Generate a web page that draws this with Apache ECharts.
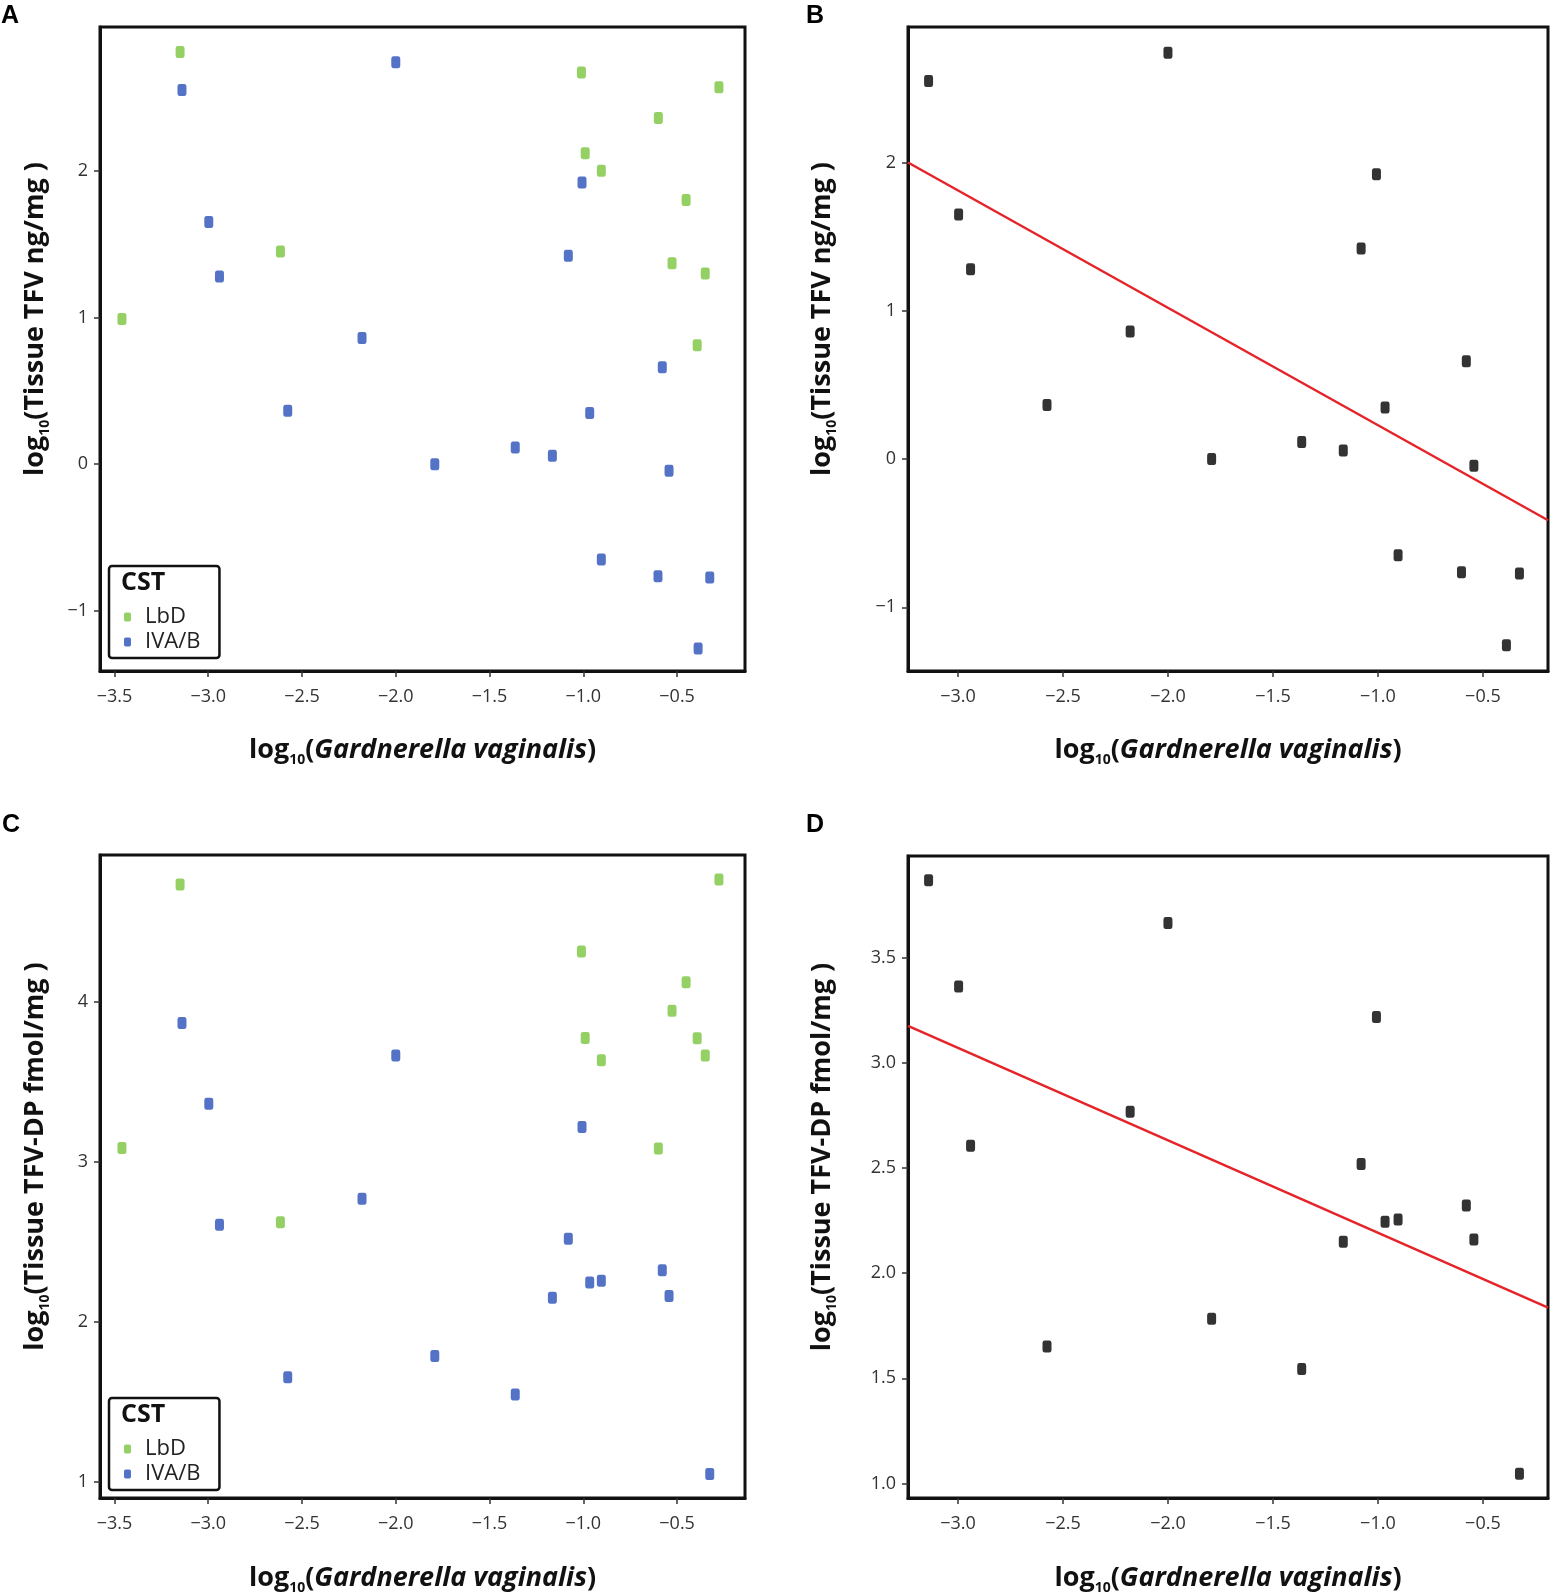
<!DOCTYPE html>
<html>
<head>
<meta charset="utf-8">
<title>Gardnerella vaginalis vs tissue TFV</title>
<script src="https://cdn.jsdelivr.net/npm/echarts@6.0.0/dist/echarts.min.js"></script>
<style>
  html, body { margin: 0; padding: 0; background: #fff; }
  #main { width: 1557px; height: 1596px; }
</style>
</head>
<body>
<div id="main"></div>
<script>
// log10(G. vaginalis) and log10(tissue TFV) per sample
var gvBlue  = [-3.14, -2.00, -1.007, -2.997, -2.94, -1.08, -2.18, -0.579, -2.576, -1.792, -1.363, -1.165, -0.966, -0.543, -0.904, -0.602, -0.326, -0.388];
var tfvBlue = [2.55, 2.74, 1.92, 1.65, 1.28, 1.42, 0.86, 0.66, 0.364, 0.0, 0.114, 0.057, 0.348, -0.045, -0.65, -0.764, -0.773, -1.257];
var gvGreen  = [-3.15, -1.01, -0.277, -0.60, -0.99, -0.904, -0.452, -2.615, -0.527, -0.35, -3.46, -0.393];
var tfvGreen = [2.81, 2.67, 2.57, 2.36, 2.12, 2.00, 1.80, 1.45, 1.37, 1.30, 0.99, 0.81];

// tissue TFV-DP (panels C and D)
var gvBlueDP   = [-3.14, -2.00, -1.007, -2.997, -2.94, -1.08, -2.18, -0.579, -2.576, -1.792, -1.363, -1.165, -0.966, -0.543, -0.904, -0.326];
var tfvdpBlue  = [3.869, 3.665, 3.218, 3.364, 2.606, 2.519, 2.768, 2.322, 1.651, 1.784, 1.544, 2.149, 2.245, 2.160, 2.255, 1.046];
var tfvdpGreen = [4.736, 4.316, 4.767, 3.083, 3.775, 3.636, 4.123, 2.622, 3.946, 3.665, 3.087, 3.773];

// fitted lines, end points at the plot edges
var fitB = [[-3.238, 2.0], [-0.19, -0.413]];
var fitD = [[-3.238, 3.176], [-0.19, 1.836]];

var xTicksAC = [-3.5, -3.0, -2.5, -2.0, -1.5, -1.0, -0.5];
var xTicksBD = [-3.0, -2.5, -2.0, -1.5, -1.0, -0.5];
var yTicksAB = [-1, 0, 1, 2];
var yTicksC  = [1, 2, 3, 4];
var yTicksD  = [1.0, 1.5, 2.0, 2.5, 3.0, 3.5];

var GREEN = '#7bc43f', BLUE = '#2950b8', RED = '#e5242a';
var FONT = 'Open Sans';

function pairs(xs, ys) {
  return xs.map(function (x, i) { return [x, ys[i]]; });
}
function fmt(d) {
  return function (v) {
    var s = Math.abs(v).toFixed(d);
    return (v < 0 ? '\u2212' : '') + s;
  };
}

var nameRich = {
  n: { fontSize: 27, fontWeight: 'bold', fontFamily: FONT, color: '#111', lineHeight: 34 },
  s: { fontSize: 14, fontWeight: 'bold', fontFamily: FONT, color: '#111', lineHeight: 34, verticalAlign: 'bottom' },
  i: { fontSize: 27, fontWeight: 'bold', fontStyle: 'italic', fontFamily: FONT, color: '#111', lineHeight: 34 }
};
var xName = '{n|log}{s|10}{n|(}{i|Gardnerella vaginalis}{n|)}';
var yNameTFV = '{n|log}{s|10}{n|(Tissue TFV ng/mg )}';
var yNameDP = '{n|log}{s|10}{n|(Tissue TFV-DP fmol/mg )}';

function xAxis(g, min, max, ticks, gap) {
  return {
    type: 'value', gridIndex: g, min: min, max: max,
    name: xName, nameLocation: 'middle', nameGap: gap,
    nameTextStyle: { rich: nameRich },
    axisLine: { show: true, onZero: false, lineStyle: { color: '#111', width: 3 } },
    axisTick: { show: true, inside: false, length: 6, customValues: ticks, lineStyle: { color: '#333', width: 1.5 } },
    axisLabel: { customValues: ticks, margin: 17, formatter: fmt(1), fontSize: 18, fontFamily: FONT, color: '#333' },
    splitLine: { show: false }
  };
}
function yAxis(g, name, min, max, ticks, d, gap, shift) {
  return {
    type: 'value', gridIndex: g, min: min, max: max,
    name: name, nameLocation: 'middle', nameGap: gap, nameRotate: 90,
    nameTextStyle: { rich: nameRich, padding: [0, 0, 0, shift] },
    axisLine: { show: true, onZero: false, lineStyle: { color: '#111', width: 3 } },
    axisTick: { show: true, inside: false, length: 6, customValues: ticks, lineStyle: { color: '#333', width: 1.5 } },
    axisLabel: { customValues: ticks, margin: 12, formatter: fmt(d), fontSize: 18, fontFamily: FONT, color: '#333' },
    splitLine: { show: false }
  };
}
function dots(name, g, data, color) {
  return {
    name: name, type: 'scatter', xAxisIndex: g, yAxisIndex: g, data: data,
    symbol: 'roundRect', symbolSize: [9, 12],
    itemStyle: { color: color }, silent: true
  };
}
function fit(g, data) {
  return {
    type: 'line', xAxisIndex: g, yAxisIndex: g, data: data, symbol: 'none',
    lineStyle: { color: RED, width: 2.5 }, silent: true, z: 1
  };
}
function legendAt(top) {
  return {
    orient: 'vertical', left: 109, top: top, data: ['LbD', 'IVA/B'],
    selectedMode: false, icon: 'roundRect', itemWidth: 7, itemHeight: 9, itemGap: 3,
    borderColor: '#111', borderWidth: 2.5, borderRadius: 3,
    padding: [40, 19, 5, 15],
    textStyle: { fontSize: 22, fontFamily: FONT, color: '#222', padding: [0, 0, 0, 9] }
  };
}
function label(text, x, y, size) {
  return {
    type: 'text', x: x, y: y, silent: true,
    style: { text: text, fontSize: size, fontWeight: 'bold', fontFamily: 'Liberation Sans', fill: '#000', verticalAlign: 'middle' }
  };
}
function cst(y) {
  return {
    type: 'text', x: 121, y: y, silent: true,
    style: { text: 'CST', fontSize: 25, fontWeight: 'bold', fontFamily: FONT, fill: '#111', verticalAlign: 'middle' }
  };
}

var gridStyle = { show: true, borderColor: '#111', borderWidth: 3, backgroundColor: 'transparent' };

var chart = echarts.init(document.getElementById('main'));
chart.setOption({
  animation: false,
  backgroundColor: '#fff',
  grid: [
    Object.assign({ left: 100, top: 27, width: 645, height: 644 }, gridStyle),
    Object.assign({ left: 908, top: 27, width: 640, height: 644 }, gridStyle),
    Object.assign({ left: 100, top: 855, width: 645, height: 645 }, gridStyle),
    Object.assign({ left: 908, top: 856, width: 640, height: 644 }, gridStyle)
  ],
  xAxis: [
    xAxis(0, -3.577, -0.138, xTicksAC, 62),
    xAxis(1, -3.238, -0.19, xTicksBD, 62),
    xAxis(2, -3.577, -0.138, xTicksAC, 63),
    xAxis(3, -3.238, -0.19, xTicksBD, 63)
  ],
  yAxis: [
    yAxis(0, yNameTFV, -1.41, 2.98, yTicksAB, 0, 48, 60),
    yAxis(1, yNameTFV, -1.43, 2.914, yTicksAB, 0, 69, 60),
    yAxis(2, yNameDP, 0.896, 4.92, yTicksC, 0, 48, 40),
    yAxis(3, yNameDP, 0.931, 3.984, yTicksD, 1, 69, 40)
  ],
  legend: [legendAt(566), legendAt(1398)],
  series: [
    dots('LbD', 0, pairs(gvGreen, tfvGreen), GREEN),
    dots('IVA/B', 0, pairs(gvBlue, tfvBlue), BLUE),
    dots('B', 1, pairs(gvBlue, tfvBlue), '#000'),
    fit(1, fitB),
    dots('LbD', 2, pairs(gvGreen, tfvdpGreen), GREEN),
    dots('IVA/B', 2, pairs(gvBlueDP, tfvdpBlue), BLUE),
    dots('D', 3, pairs(gvBlueDP, tfvdpBlue), '#000'),
    fit(3, fitD)
  ],
  graphic: [
    label('A', 1, 16, 25),
    label('B', 806, 16, 25),
    label('C', 2, 825, 25),
    label('D', 806, 825, 25),
    cst(583),
    cst(1415)
  ]
});
</script>
</body>
</html>
